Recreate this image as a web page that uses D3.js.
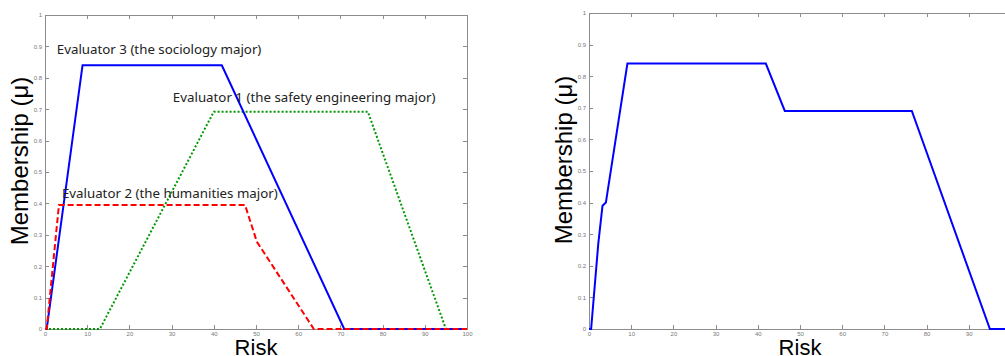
<!DOCTYPE html>
<html><head><meta charset="utf-8">
<script src="https://cdn.jsdelivr.net/npm/d3@7"></script>
<style>body{margin:0;background:#fff;}svg{display:block;}</style>
</head><body>
<svg id="c" width="1005" height="356"></svg>
<script>
// Data (Risk, Membership)
const eval1Risk = [0, 13.0, 40.0, 76.5, 95.0, 100];
const eval1Mu   = [0, 0, 0.692, 0.692, 0, 0];
const eval2Risk = [0, 0.4, 3.3, 47.4, 50.2, 63.7, 100];
const eval2Mu   = [0, 0, 0.395, 0.395, 0.278, 0, 0];
const eval3Risk = [0, 0.4, 8.9, 41.9, 70.9, 100];
const eval3Mu   = [0, 0, 0.84, 0.84, 0, 0];
const aggRisk = [0, 0.5, 2.2, 3.2, 4.0, 9.1, 41.9, 46.4, 76.5, 95.0, 100];
const aggMu   = [0, 0, 0.27, 0.39, 0.40, 0.84, 0.84, 0.69, 0.69, 0, 0];
const xTicks = [0,10,20,30,40,50,60,70,80,90,100];
const yTicks = [0,0.1,0.2,0.3,0.4,0.5,0.6,0.7,0.8,0.9,1];
const labels = [
  {text:"Evaluator 3 (the sociology major)", risk:2.8, mu:0.876},
  {text:"Evaluator 1 (the safety engineering major)", risk:30.3, mu:0.723},
  {text:"Evaluator 2 (the humanities major)", risk:4.0, mu:0.417}
];

const svg = d3.select("#c");
function panel(left, top, w, h, series, ann) {
  const x = d3.scaleLinear().domain([0,100]).range([left, left+w]);
  const y = d3.scaleLinear().domain([0,1]).range([top+h, top]);
  const g = svg.append("g");
  const axc = "#8c8c8c";
  g.append("rect").attr("x", left).attr("y", top).attr("width", w).attr("height", h)
    .attr("fill","none").attr("stroke", axc).attr("stroke-width",1).attr("shape-rendering","crispEdges");
  const xb = g.append("g").attr("transform",`translate(0,${top+h})`)
    .call(d3.axisBottom(x).tickValues(xTicks).tickSize(-4).tickPadding(3).tickFormat(d=>d));
  const xt = g.append("g").attr("transform",`translate(0,${top})`)
    .call(d3.axisTop(x).tickValues(xTicks).tickSize(-4).tickFormat(""));
  const yl = g.append("g").attr("transform",`translate(${left},0)`)
    .call(d3.axisLeft(y).tickValues(yTicks).tickSize(-4).tickPadding(3).tickFormat(d=>+d.toFixed(1)));
  const yr = g.append("g").attr("transform",`translate(${left+w},0)`)
    .call(d3.axisRight(y).tickValues(yTicks).tickSize(-4).tickFormat(""));
  [xb,xt,yl,yr].forEach(a=>{
    a.select(".domain").remove();
    a.selectAll("line").attr("stroke",axc).attr("shape-rendering","crispEdges");
    a.selectAll("text").attr("fill","#777").attr("font-size","6px").attr("font-family","Liberation Sans, Arial, sans-serif");
  });
  const line = d3.line().x(d=>x(d[0])).y(d=>y(d[1]));
  series.forEach(s=>{
    g.append("path").datum(d3.zip(s.r, s.m)).attr("d", line)
      .attr("fill","none").attr("stroke", s.color).attr("stroke-width", s.w)
      .attr("stroke-dasharray", s.dash || null).attr("stroke-linejoin","miter");
  });
  (ann||[]).forEach(a=>{
    g.append("text").attr("x", x(a.risk)).attr("y", y(a.mu)).text(a.text)
      .attr("font-family","Noto Sans, Open Sans, sans-serif").attr("font-size","13.3px").attr("fill","#222");
  });
  g.append("text").attr("x", left + w/2).attr("y", 355).attr("text-anchor","middle")
    .attr("font-family","Liberation Sans, Arial, sans-serif").attr("font-size","22px").attr("fill","#000").text("Risk");
  g.append("text").attr("transform",`translate(${left-17},${top+h/2-11}) rotate(-90)`).attr("text-anchor","middle")
    .attr("font-family","Liberation Sans, Arial, sans-serif").attr("font-size","24px").attr("fill","#000").text("Membership (\u03bc)");
}
panel(45, 15, 422, 314, [
  {r: eval1Risk, m: eval1Mu, color:"#009900", w:2, dash:"2,2"},
  {r: eval3Risk, m: eval3Mu, color:"#0000ff", w:2},
  {r: eval2Risk, m: eval2Mu, color:"#ff0000", w:2, dash:"6,3"}
], labels);
panel(589, 13, 422, 316, [
  {r: aggRisk, m: aggMu, color:"#0000ff", w:2}
], []);
</script>
</body></html>
